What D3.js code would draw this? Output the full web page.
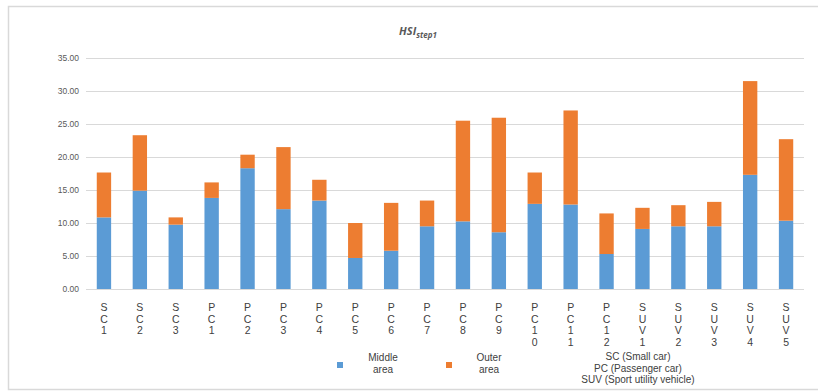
<!DOCTYPE html>
<html>
<head>
<meta charset="utf-8">
<script src="https://cdn.jsdelivr.net/npm/d3@7"></script>
<style>
  html, body { margin: 0; padding: 0; background: #fff; }
  svg { display: block; font-family: "Liberation Sans", Arial, sans-serif; }
</style>
</head>
<body>
<svg id="chart" width="818" height="392"></svg>
<script>
// Vehicle codes (drawn as stacked characters under each bar)
const categories = ["SC1","SC2","SC3","PC1","PC2","PC3","PC4","PC5","PC6","PC7","PC8","PC9","PC10","PC11","PC12","SUV1","SUV2","SUV3","SUV4","SUV5"];
// HSI step 1 contribution of the middle area
const middleArea = [10.85,14.9,9.75,13.8,18.3,12.1,13.4,4.7,5.8,9.5,10.25,8.6,12.9,12.8,5.3,9.1,9.5,9.5,17.3,10.35];
// HSI step 1 contribution of the outer area
const outerArea = [6.8,8.4,1.1,2.35,2.05,9.4,3.15,5.3,7.25,3.9,15.25,17.35,4.75,14.25,6.15,3.2,3.2,3.7,14.2,12.35];
const yTicks = [0,5,10,15,20,25,30,35];
const seriesNames = ["Middle area","Outer area"];
const seriesColors = ["#5b9bd5","#ed7d31"];
const noteLines = ["SC (Small car)","PC (Passenger car)","SUV (Sport utility vehicle)"];

const svg = d3.select("#chart");

// outer frame
svg.append("rect")
  .attr("x", 8.5).attr("y", 6.5)
  .attr("width", 820).attr("height", 383)
  .attr("fill", "#fff").attr("stroke", "#d9d9d9").attr("stroke-width", 1.5);

const margin = {left: 86, right: 14, top: 58, bottom: 103};
const W = 818, H = 392;

const x = d3.scaleBand().domain(categories)
  .range([margin.left, W - margin.right]).paddingInner(0.6).paddingOuter(0.3);
const y = d3.scaleLinear().domain([0, 35]).range([H - margin.bottom, margin.top]);

// gridlines
svg.append("g").selectAll("line").data(yTicks).join("line")
  .attr("x1", margin.left).attr("x2", W - margin.right)
  .attr("y1", d => Math.round(y(d)) + 0.5).attr("y2", d => Math.round(y(d)) + 0.5)
  .attr("stroke", "#d9d9d9").attr("stroke-width", 1);

// y axis labels
const yAxis = d3.axisLeft(y).tickValues(yTicks).tickFormat(d3.format(".2f")).tickSize(0).tickPadding(7);
svg.append("g").attr("transform", `translate(${margin.left},0)`).call(yAxis)
  .call(g => g.select(".domain").remove())
  .call(g => g.selectAll("text").attr("fill", "#595959").attr("font-size", 8.5));

// stacked bars
const table = categories.map((c, i) => ({cat: c, middle: middleArea[i], outer: outerArea[i]}));
const stack = d3.stack().keys(["middle", "outer"])(table);
svg.append("g").selectAll("g").data(stack).join("g")
  .attr("fill", (d, i) => seriesColors[i])
  .selectAll("rect").data(d => d).join("rect")
  .attr("x", d => x(d.data.cat))
  .attr("width", x.bandwidth())
  .attr("y", d => y(d[1]))
  .attr("height", d => y(d[0]) - y(d[1]));

// category labels, one character per line
const catG = svg.append("g").selectAll("text").data(categories).join("text")
  .attr("x", d => x(d) + x.bandwidth() / 2)
  .attr("y", 311)
  .attr("text-anchor", "middle")
  .attr("font-size", 10.5)
  .attr("fill", "#404040");
catG.selectAll("tspan").data(d => d.split("")).join("tspan")
  .attr("x", function() { return this.parentNode.getAttribute("x"); })
  .attr("dy", (d, i) => i === 0 ? 0 : 11.7)
  .text(d => d);

// title
const title = svg.append("text")
  .attr("x", 418).attr("y", 35)
  .attr("text-anchor", "middle")
  .attr("font-family", "'Open Sans', 'Liberation Sans', sans-serif")
  .attr("font-weight", "bold").attr("font-style", "italic")
  .attr("fill", "#595959").attr("font-size", 11);
title.append("tspan").text("HSI");
title.append("tspan").attr("font-size", 8).attr("dy", 3).text("step1");

// legend
const legend = [
  {sx: 337, tx: 383},
  {sx: 446, tx: 489}
];
legend.forEach((p, i) => {
  svg.append("rect").attr("x", p.sx).attr("y", 362).attr("width", 6).attr("height", 6)
    .attr("fill", seriesColors[i]);
  const t = svg.append("text").attr("x", p.tx).attr("y", 361)
    .attr("text-anchor", "middle").attr("font-size", 10).attr("fill", "#404040");
  const words = seriesNames[i].split(" ");
  t.selectAll("tspan").data(words).join("tspan")
    .attr("x", p.tx).attr("dy", (d, j) => j === 0 ? 0 : 12).text(d => d);
});

// vehicle-type note
svg.append("g").selectAll("text").data(noteLines).join("text")
  .attr("x", 638).attr("y", (d, i) => 360 + i * 11.6)
  .attr("text-anchor", "middle").attr("font-size", 10).attr("fill", "#404040")
  .text(d => d);
</script>
</body>
</html>
